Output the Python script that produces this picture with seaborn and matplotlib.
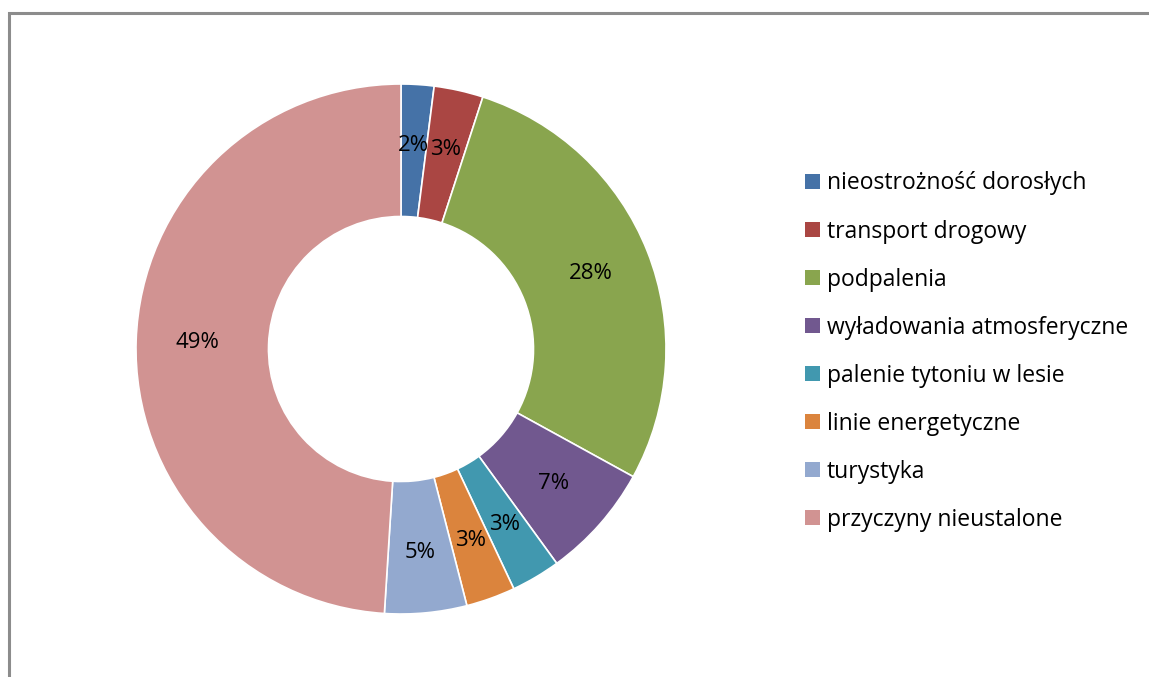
import matplotlib
matplotlib.use("Agg")
import matplotlib.pyplot as plt
import seaborn as sns
from matplotlib.patches import Rectangle, Patch

categories = ["nieostrożność dorosłych", "transport drogowy", "podpalenia",
              "wyładowania atmosferyczne", "palenie tytoniu w lesie",
              "linie energetyczne", "turystyka", "przyczyny nieustalone"]
values = [2, 3, 28, 7, 3, 3, 5, 49]
colors = ["#4572A7", "#AA4643", "#89A54E", "#71588F", "#4198AF",
          "#DB843D", "#93A9CF", "#D19392"]

sns.set_theme(style="white")
plt.rcParams['font.family'] = ['Open Sans', 'DejaVu Sans']
plt.rcParams['text.color'] = 'black'

W, H = 1149, 677
fig = plt.figure(figsize=(W / 100, H / 100), dpi=100)
fig.patch.set_facecolor("white")

# outer border (only top and left edges visible)
fig.add_artist(Rectangle((9 / W, -0.5), 1.2, 0.5 + (H - 13) / H,
                         transform=fig.transFigure,
                         fill=False, edgecolor="#8c8c8c", linewidth=2.2))

cx, cy, r = 401, 349, 265
ax = fig.add_axes([(cx - r) / W, (H - cy - r) / H, 2 * r / W, 2 * r / H])
wedges, texts, autotexts = ax.pie(
    values, colors=colors, startangle=90, counterclock=False,
    radius=1.0, autopct=lambda p: f"{p:.0f}%", pctdistance=0.77,
    wedgeprops=dict(width=0.5, edgecolor="white", linewidth=1.2),
    textprops=dict(fontsize=16, color="black"))
ax.set_xlim(-1, 1)
ax.set_ylim(-1, 1)
ax.set_aspect("equal")
ax.axis("off")

handles = [Patch(facecolor=c, edgecolor="none") for c in colors]
fig.legend(handles, categories, loc="upper left",
           bbox_to_anchor=(794 / W, (H - 160) / H), frameon=False,
           fontsize=16.5, handlelength=0.62, handleheight=0.62,
           handletextpad=0.3, labelspacing=1.05, borderpad=0,
           labelcolor="black")

fig.savefig("out.png", dpi=100, facecolor="white")
